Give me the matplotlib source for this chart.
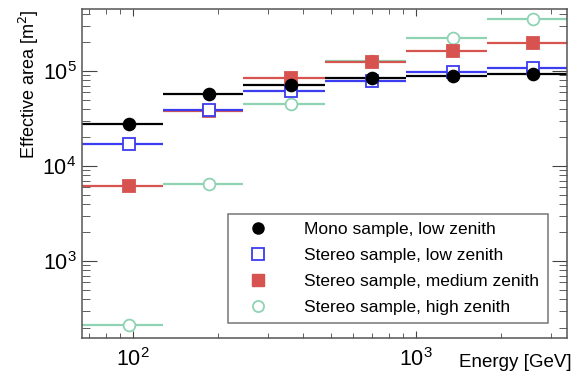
import numpy as np
import matplotlib
matplotlib.use("Agg")
import matplotlib.pyplot as plt
from matplotlib.lines import Line2D
from matplotlib.ticker import LogLocator, NullFormatter

plt.rcParams['font.family'] = ['Liberation Sans', 'DejaVu Sans']

# energy bins [GeV] and point positions
bin_edges = np.array([66, 128, 245, 477, 919, 1782, 3420])
energy = np.array([97, 186, 361, 700, 1352, 2595])

# effective area [m^2]
mono_low = np.array([27700, 57500, 72000, 83800, 89000, 94000])
stereo_low = np.array([17000, 39000, 61000, 79000, 98000, 108000])
stereo_med = np.array([6200, 38000, 84000, 125000, 163000, 199000])
stereo_high = np.array([212, 6500, 45000, 128000, 224000, 350000])

labels = ["Mono sample, low zenith",
          "Stereo sample, low zenith",
          "Stereo sample, medium zenith",
          "Stereo sample, high zenith"]
colors = ["black", "#3c3cf0", "#d6534f", "#8fd3b4"]

fig = plt.figure(figsize=(5.83, 3.76), dpi=100)
ax = fig.add_axes([0.1407, 0.101, 0.8319, 0.875])

xerr = [energy - bin_edges[:-1], bin_edges[1:] - energy]
series = [stereo_high, stereo_med, stereo_low, mono_low]
styles = [("o", "white"), ("s", None), ("s", "white"), ("o", None)]
cols = [colors[3], colors[2], colors[1], colors[0]]
for y, (m, fc), c in zip(series, styles, cols):
    ax.errorbar(energy, y, xerr=xerr, fmt=m, color=c, ecolor=c, elinewidth=1.6,
                capsize=0, markersize=8.5, markerfacecolor=fc if fc else c,
                markeredgecolor=c, markeredgewidth=1.3)

ax.set_xscale("log")
ax.set_yscale("log")
ax.set_xlim(66, 3420)
ax.set_ylim(155, 450000)

for a in (ax.xaxis, ax.yaxis):
    a.set_minor_locator(LogLocator(base=10, subs=np.arange(2, 10)))
    a.set_minor_formatter(NullFormatter())
ax.tick_params(which="both", direction="in", top=True, right=True, colors="#444444",
               labelcolor="black", labelsize=15.5)
ax.tick_params(axis="x", which="major", length=5, pad=7)
ax.tick_params(axis="x", which="minor", length=3.5)
ax.tick_params(axis="y", which="major", length=11, pad=4)
ax.tick_params(axis="y", which="minor", length=5.5)
for s in ax.spines.values():
    s.set_color("#555555")
    s.set_linewidth(1.1)

handles = [Line2D([], [], linestyle="none", marker="o", color=colors[0], markersize=8),
           Line2D([], [], linestyle="none", marker="s", color=colors[1], markerfacecolor="white",
                  markersize=8, markeredgewidth=1.3),
           Line2D([], [], linestyle="none", marker="s", color=colors[2], markersize=8),
           Line2D([], [], linestyle="none", marker="o", color=colors[3], markerfacecolor="white",
                  markersize=8, markeredgewidth=1.3)]
leg = ax.legend(handles, labels, loc="lower left", bbox_to_anchor=(0.301, 0.046, 0.66, 0.334),
                mode="expand", fontsize=12.5, frameon=True, fancybox=False, borderaxespad=0,
                handletextpad=1.3, borderpad=0.45, labelspacing=0.62, handlelength=2.6)
leg.get_frame().set_edgecolor("#555555")
leg.get_frame().set_linewidth(1.1)

fig.text(0.05, 0.975, "Effective area [m$^2$]", rotation=90, ha="center", va="top", fontsize=13)
fig.text(0.981, 0.037, "Energy [GeV]", ha="right", va="center", fontsize=13.5)

fig.savefig("out.png", dpi=100)
